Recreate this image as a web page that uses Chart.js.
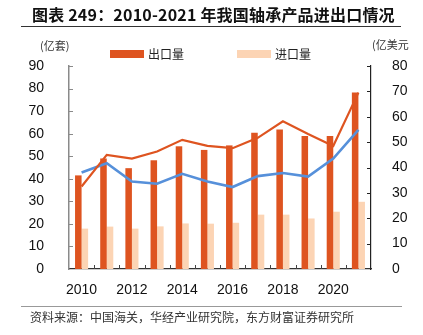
<!DOCTYPE html>
<html>
<head>
<meta charset="utf-8">
<script src="https://cdn.jsdelivr.net/npm/chart.js@4/dist/chart.umd.min.js"></script>
<style>
  html, body { margin: 0; padding: 0; background: #fff; }
  #wrap { position: relative; width: 423px; height: 335px; overflow: hidden; }
  #wrap canvas { position: absolute; left: 0; top: 0; }
  .txt { position: absolute; white-space: nowrap; color: #222; }
  #title { left: 32px; top: 3px; font: bold 16px "Noto Sans CJK SC", sans-serif; color: #111; line-height: 22px; letter-spacing: 0.2px; }
  .rule { position: absolute; height: 1px; }
  #ruleTop { left: 21px; width: 380px; top: 26px; background: #333; }
  #ruleBottom { left: 21px; width: 381px; top: 306px; background: #999; }
  .unit { font: 11px "Noto Sans CJK SC", sans-serif; color: #333; line-height: 14px; }
  #unitLeft { left: 40px; top: 38px; }
  #unitRight { left: 372px; top: 37px; }
  .legend { position: absolute; top: 46px; width: 90px; height: 16px; white-space: nowrap; font: 12px "Noto Sans CJK SC", sans-serif; color: #222; line-height: 16px; }
  .legend i { position: absolute; left: 0; top: 4px; width: 34px; height: 8px; }
  .legend span { position: absolute; left: 38px; top: 0; white-space: nowrap; }
  #legExport { left: 110px; }
  #legImport { left: 237px; }
  #source { left: 30px; top: 309px; font: 12px "Noto Sans CJK SC", sans-serif; color: #333; line-height: 16px; }
</style>
</head>
<body>
<div id="wrap">
  <canvas id="chart" width="423" height="335"></canvas>
  <div class="txt" id="title">图表 249：2010-2021 年我国轴承产品进出口情况</div>
  <div class="rule" id="ruleTop"></div>
  <div class="txt unit" id="unitLeft">(亿套)</div>
  <div class="txt unit" id="unitRight">(亿美元</div>
  <div class="legend" id="legExport"><i></i><span>出口量</span></div>
  <div class="legend" id="legImport"><i></i><span>进口量</span></div>
  <div class="rule" id="ruleBottom"></div>
  <div class="txt" id="source">资料来源：中国海关，华经产业研究院，东方财富证券研究所</div>
</div>
<script>
// Years on the category axis
const years = ['2010', '2011', '2012', '2013', '2014', '2015', '2016', '2017', '2018', '2019', '2020', '2021'];
// Bearing export / import volume, 100 million sets (left axis)
const exportVolume = [41.5, 49.0, 44.7, 48.2, 54.4, 52.8, 54.8, 60.4, 61.9, 59.0, 59.0, 78.2];
const importVolume = [17.9, 18.8, 17.9, 18.9, 20.2, 20.1, 20.5, 24.1, 24.1, 22.4, 25.4, 29.8];
// Bearing export / import value, 100 million USD (right axis)
const exportValue = [32.5, 45.0, 43.5, 46.3, 50.9, 48.5, 47.6, 51.7, 58.2, 53.2, 48.5, 69.5];
const importValue = [38.0, 41.7, 34.5, 33.6, 37.5, 34.5, 32.3, 36.6, 37.8, 36.4, 43.5, 54.8];
// Tick values for both value axes
const leftTicks = [0, 10, 20, 30, 40, 50, 60, 70, 80, 90];
const rightTicks = [0, 10, 20, 30, 40, 50, 60, 70, 80];

const C_EXPORT = '#DE5420';
const C_IMPORT = '#FCD4B4';
const C_BLUE = '#5690DA';

document.querySelector('#legExport i').style.background = C_EXPORT;
document.querySelector('#legImport i').style.background = C_IMPORT;

// Short tick marks drawn inward from each axis line
const innerTicks = {
  id: 'innerTicks',
  afterDraw(chart) {
    const { ctx, chartArea: a, scales } = chart;
    const len = 4;
    ctx.save();
    ctx.lineWidth = 1;
    ctx.strokeStyle = '#8a8a8a';
    leftTicks.forEach(v => {
      if (v === 0) return;
      const y = Math.round(scales.y.getPixelForValue(v)) + 0.5;
      ctx.beginPath(); ctx.moveTo(a.left, y); ctx.lineTo(a.left + len, y); ctx.stroke();
    });
    ctx.strokeStyle = '#222';
    rightTicks.forEach(v => {
      if (v === 0) return;
      const y = Math.round(scales.y1.getPixelForValue(v)) + 0.5;
      ctx.beginPath(); ctx.moveTo(a.right, y); ctx.lineTo(a.right - len, y); ctx.stroke();
    });
    ctx.strokeStyle = '#444';
    for (let i = 1; i < years.length; i++) {
      const x = Math.round((scales.x.getPixelForValue(i - 1) + scales.x.getPixelForValue(i)) / 2) + 0.5;
      ctx.beginPath(); ctx.moveTo(x, a.bottom); ctx.lineTo(x, a.bottom - len); ctx.stroke();
    }
    ctx.restore();
  }
};

const tickFont = { family: '"Liberation Sans", Arial, sans-serif', size: 14 };

new Chart(document.getElementById('chart'), {
  type: 'bar',
  data: {
    labels: years,
    datasets: [
      { type: 'line', label: '出口额', data: exportValue, yAxisID: 'y1', borderColor: C_EXPORT, borderWidth: 2.2, pointRadius: 0, tension: 0, fill: false, order: 0 },
      { type: 'line', label: '进口额', data: importValue, yAxisID: 'y1', borderColor: C_BLUE, borderWidth: 2.6, pointRadius: 0, tension: 0, fill: false, order: 0 },
      { label: '出口量', data: exportVolume, yAxisID: 'y', backgroundColor: C_EXPORT, categoryPercentage: 0.52, barPercentage: 1.0, order: 1 },
      { label: '进口量', data: importVolume, yAxisID: 'y', backgroundColor: C_IMPORT, categoryPercentage: 0.52, barPercentage: 1.0, order: 1 }
    ]
  },
  options: {
    responsive: false,
    animation: false,
    layout: { padding: { top: 66, left: 0, right: 0, bottom: 36 } },
    plugins: { legend: { display: false }, tooltip: { enabled: false }, title: { display: false } },
    scales: {
      x: {
        offset: true,
        grid: { display: false },
        border: { display: true, color: '#333', width: 1.2 },
        ticks: {
          autoSkip: false, maxRotation: 0, padding: 5, color: '#111', font: tickFont,
          callback: (v, i) => (i % 2 === 0 ? years[i] : '')
        },
        afterFit: s => { s.height = 30; }
      },
      y: {
        position: 'left', min: 0, max: 90,
        grid: { display: false },
        border: { display: true, color: '#8a8a8a', width: 1.5 },
        ticks: { stepSize: 10, padding: 17, color: '#111', font: tickFont },
        afterBuildTicks: s => { s.ticks = leftTicks.map(v => ({ value: v })); },
        afterFit: s => { s.width = 69; }
      },
      y1: {
        position: 'right', min: 0, max: 80,
        grid: { display: false },
        border: { display: true, color: '#222', width: 1.2 },
        ticks: { stepSize: 10, padding: 13, color: '#111', font: tickFont },
        afterBuildTicks: s => { s.ticks = rightTicks.map(v => ({ value: v })); },
        afterFit: s => { s.width = 52; }
      }
    }
  },
  plugins: [innerTicks]
});
</script>
</body>
</html>
